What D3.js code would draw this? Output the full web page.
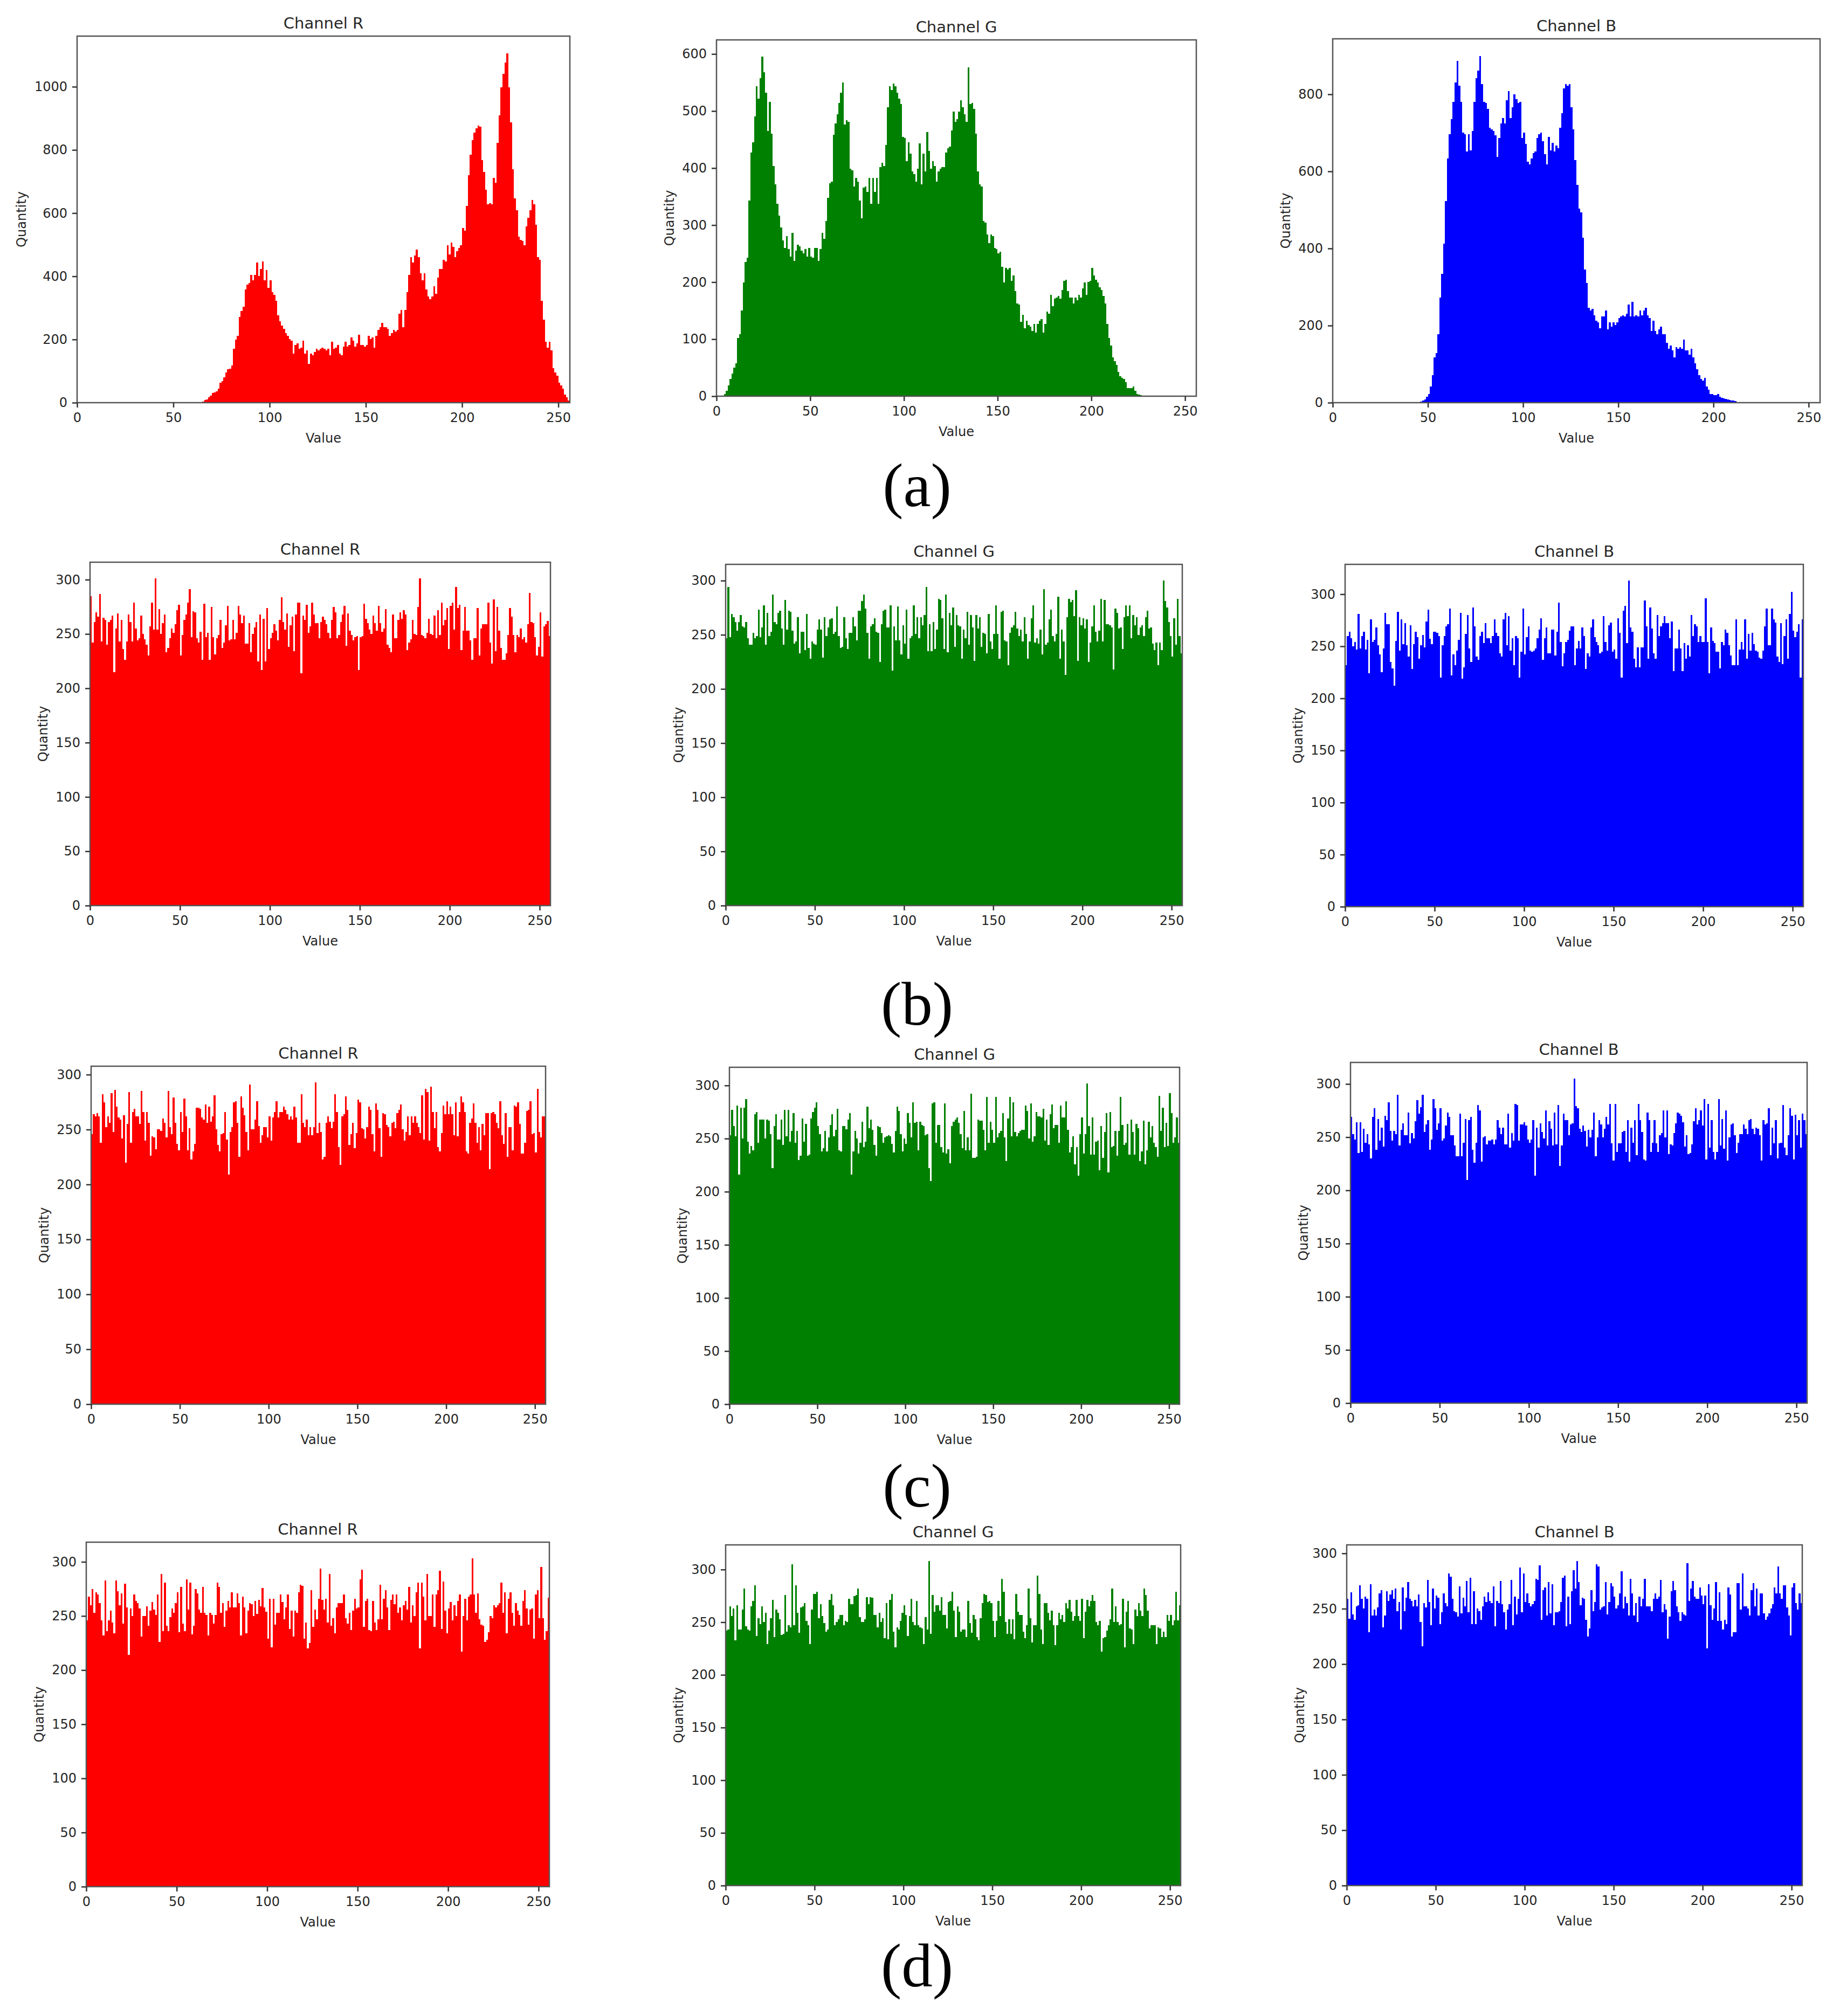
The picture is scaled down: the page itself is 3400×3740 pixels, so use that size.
<!DOCTYPE html>
<html>
<head>
<meta charset="utf-8">
<script src="https://cdn.jsdelivr.net/npm/d3@7"></script>
<style>
  body { margin: 0; background: #fff; }
  text { font-family: "DejaVu Sans", sans-serif; fill: #262626; }
</style>
</head>
<body>
<svg id="chart"></svg>
<script>
// ---- data (256 bins per histogram) ----
var rowLabels = ['(a)', '(b)', '(c)', '(d)'];
var channelNames = ['R', 'G', 'B'];
var xTicks = [0, 50, 100, 150, 200, 250];
var yTicksAR = [0, 200, 400, 600, 800, 1000];
var yTicksAG = [0, 100, 200, 300, 400, 500, 600];
var yTicksAB = [0, 200, 400, 600, 800];
var yTicksFlat = [0, 50, 100, 150, 200, 250, 300];

// (a) original image
var aR = [
  0,0,0,0,0,0,0,0,0,0,0,0,0,0,0,0,
  0,0,0,0,0,0,0,0,0,0,0,0,0,0,0,0,
  0,0,0,0,0,0,0,0,0,0,0,0,0,0,0,0,
  0,0,0,0,0,0,0,0,0,0,0,0,0,0,0,2,
  2,3,8,10,17,22,30,33,35,45,63,68,81,95,105,108,
  118,170,200,211,271,290,304,359,373,378,405,387,405,443,401,424,
  447,387,419,364,387,350,341,322,276,257,244,234,220,211,202,197,
  155,183,188,170,174,197,155,165,123,155,151,160,170,165,170,174,
  170,165,170,151,192,170,174,183,155,151,178,192,178,183,206,197,
  178,188,215,183,183,178,183,211,202,206,174,211,230,239,253,239,
  239,234,211,220,230,225,230,281,294,239,294,350,405,461,443,466,
  484,461,410,387,410,359,336,327,336,368,345,396,424,424,452,447,
  498,470,507,493,461,480,489,498,553,544,623,720,785,831,854,868,
  877,873,767,730,674,628,632,628,711,697,822,910,998,1040,1077,1105,
  998,887,739,646,609,526,516,512,498,558,586,609,642,628,563,461,
  452,322,262,192,174,192,165,109,95,86,63,54,44,26,17,7
];
var aG = [
  0,0,0,0,4,9,19,30,40,50,58,102,109,150,199,235,
  243,343,427,445,491,543,522,558,595,568,532,465,516,460,404,371,
  337,317,296,273,260,281,258,245,286,237,255,266,263,255,250,258,
  245,260,245,243,260,260,237,258,286,276,307,348,373,376,458,478,
  494,514,532,550,476,484,481,399,396,368,383,376,343,312,366,368,
  358,383,337,383,358,383,337,402,409,404,440,507,543,537,548,543,
  532,522,512,455,453,412,445,425,394,389,376,399,443,371,425,394,
  463,430,399,412,404,376,394,399,402,402,427,435,438,466,499,481,
  486,499,519,507,494,481,577,512,514,504,460,394,371,368,307,304,
  284,268,284,281,260,258,250,253,227,199,225,222,225,202,212,184,
  163,161,130,143,119,132,125,122,114,127,112,127,132,135,112,127,
  148,145,178,158,171,173,176,171,186,202,204,184,173,173,163,173,
  168,178,173,189,199,178,200,202,225,212,204,199,191,186,176,163,
  127,102,89,68,61,55,43,35,32,30,25,14,14,14,17,9,
  4,3,2,1,1,1,0,0,0,0,0,0,0,0,0,0,
  0,0,0,0,0,0,0,0,0,0,0,0,0,0,0,0
];
var aB = [
  0,0,0,0,0,0,0,0,0,0,0,0,0,0,0,0,
  0,0,0,0,0,0,0,0,0,0,0,0,0,0,0,0,
  0,0,0,0,0,0,0,0,0,0,0,0,0,0,3,5,
  8,15,23,42,72,118,129,178,273,334,413,523,633,697,735,781,
  830,887,822,781,701,697,652,697,655,705,781,842,861,899,826,781,
  777,762,713,709,705,694,637,686,724,739,724,785,808,739,766,800,
  788,777,781,686,701,671,625,618,633,648,652,686,697,701,678,644,
  618,690,655,674,652,667,660,713,751,815,826,822,826,766,709,629,
  565,504,493,428,345,311,246,239,243,227,212,208,193,224,224,239,
  190,208,197,208,201,208,220,224,227,224,231,254,224,262,224,227,
  224,239,227,239,246,227,220,186,212,186,178,190,197,178,178,155,
  140,148,136,118,144,140,144,140,163,136,136,125,140,118,102,87,
  72,61,57,64,42,34,23,23,20,19,23,15,13,11,10,8,
  7,6,5,4,2,1,0,0,0,0,0,0,0,0,0,0,
  0,0,0,0,0,0,0,0,0,0,0,0,0,0,0,0,
  0,0,0,0,0,0,0,0,0,0,0,0,0,0,0,0
];

// (b)
var bR = [
  285,242,261,270,266,287,243,265,263,240,261,263,267,215,255,269,
  243,263,236,226,243,268,261,243,279,255,244,246,267,250,245,240,
  230,257,279,254,301,254,273,250,260,268,233,237,246,255,251,259,
  272,277,230,249,263,268,279,291,247,271,270,246,242,252,226,278,
  247,251,226,275,247,231,246,249,263,237,242,258,276,244,245,263,
  245,251,276,268,260,267,241,241,260,233,250,256,261,225,268,217,
  264,225,274,236,246,251,259,253,244,263,284,261,254,269,238,258,
  266,234,268,279,279,214,267,263,277,251,257,279,268,260,260,246,
  261,266,263,259,251,246,263,275,270,246,249,261,268,276,239,269,
  253,249,244,247,248,217,247,248,278,264,260,254,250,267,260,253,
  276,260,252,255,273,240,237,233,268,246,246,263,270,264,272,268,
  235,242,245,263,250,249,275,301,249,248,246,251,264,250,249,267,
  246,272,249,279,258,263,274,236,276,279,254,293,274,277,235,253,
  275,253,253,244,226,246,246,274,230,255,259,259,259,279,242,223,
  282,234,275,253,237,226,226,232,249,274,266,249,233,249,247,255,
  245,247,242,259,288,261,260,247,230,238,270,229,257,259,262,248
];
var bG = [
  247,294,248,269,266,262,254,262,268,258,257,262,247,241,241,252,
  247,249,273,248,257,277,241,270,249,253,287,262,260,270,272,256,
  241,282,255,272,271,254,242,244,266,233,253,253,236,269,238,228,
  244,242,241,255,264,255,229,266,249,257,264,265,251,253,276,249,
  238,239,266,247,237,252,252,266,258,245,272,272,281,287,274,252,
  228,258,260,265,253,252,225,260,272,273,257,257,277,217,258,245,
  276,245,232,259,242,273,228,247,249,277,251,266,247,266,259,268,
  294,235,260,235,262,237,255,283,282,265,237,287,234,270,259,275,
  239,268,259,258,228,255,247,271,241,268,257,226,268,256,266,239,
  252,251,233,269,244,237,251,277,251,228,271,272,245,244,222,252,
  257,259,271,256,249,255,244,266,251,228,244,265,277,243,247,242,
  255,232,292,241,243,264,273,249,244,251,285,228,255,244,213,266,
  283,280,282,267,291,226,266,259,265,256,264,225,243,258,277,253,
  244,254,283,244,282,260,260,259,257,218,274,270,256,257,237,266,
  277,267,277,247,268,259,266,250,257,259,249,266,272,256,257,242,
  236,243,222,243,236,300,281,275,262,249,230,265,241,283,249,233
];
var bB = [
  232,260,264,258,250,254,247,281,248,260,264,247,256,224,276,254,
  256,268,251,242,225,248,282,271,271,235,229,212,255,283,246,276,
  252,272,251,240,270,228,252,264,259,238,251,261,249,274,285,257,
  252,264,264,263,260,220,251,260,269,271,286,222,242,232,246,256,
  282,219,230,262,280,248,235,287,269,240,237,260,264,253,272,258,
  258,253,260,276,263,260,243,240,276,282,251,279,246,258,232,260,
  258,220,245,286,242,259,269,246,245,246,248,258,266,277,237,258,
  268,243,243,266,266,241,264,292,254,231,243,254,256,265,269,269,
  232,248,255,248,268,260,228,243,240,268,276,259,254,251,243,245,
  279,254,246,270,273,245,247,238,277,263,220,284,289,253,313,268,
  264,238,230,249,230,249,249,294,269,238,287,267,243,238,280,260,
  269,272,279,272,272,258,274,226,248,248,266,248,226,253,238,251,
  240,280,260,271,269,254,260,254,254,296,254,224,268,255,253,245,
  245,229,254,251,266,263,251,241,232,232,276,232,247,254,247,276,
  238,262,246,263,252,246,245,239,238,246,269,286,251,251,286,276,
  273,240,235,272,233,260,276,238,281,302,265,259,264,271,220,276
];

// (c)
var cR = [
  246,264,262,265,262,238,282,275,252,262,256,283,248,286,271,261,
  259,242,263,220,255,284,238,266,269,262,262,255,285,266,240,266,
  256,226,244,243,232,250,250,249,260,256,243,285,252,246,279,256,
  237,231,266,248,278,262,231,251,223,230,237,270,270,269,261,259,
  273,256,271,257,262,281,250,236,230,246,247,266,241,209,248,252,
  275,276,256,225,280,270,263,248,231,291,250,250,259,276,253,238,
  245,252,252,243,262,240,261,266,276,261,266,266,271,268,264,259,
  262,259,271,261,238,238,282,256,252,259,245,252,245,252,293,247,
  256,248,223,225,256,262,257,251,257,282,266,234,218,262,264,280,
  268,236,246,256,233,247,277,275,251,250,242,252,271,268,246,230,
  274,268,251,225,265,264,254,252,244,256,257,251,265,268,273,250,
  240,248,262,245,262,256,262,256,252,247,281,241,287,284,240,289,
  266,251,266,234,230,247,272,264,276,264,271,264,245,275,244,266,
  280,275,266,230,228,256,260,274,256,238,252,231,255,245,265,265,
  214,265,266,264,256,251,276,245,237,265,225,252,252,231,272,271,
  275,255,228,228,238,267,268,276,246,247,229,287,248,243,262,262
];
var cG = [
  253,277,262,252,281,216,279,250,279,287,247,236,243,239,273,275,
  246,268,268,268,250,268,267,254,222,262,273,249,249,268,244,277,
  252,277,247,257,274,246,257,230,234,269,247,264,234,235,269,275,
  279,284,262,254,238,241,257,238,251,263,273,252,258,278,239,238,
  262,262,259,268,274,216,238,257,250,236,246,266,242,247,280,260,
  268,258,244,234,262,261,255,246,251,252,253,252,245,237,257,280,
  276,254,238,250,245,274,265,251,284,265,266,239,266,263,262,253,
  254,222,210,283,284,246,263,263,242,237,283,236,240,227,262,266,
  268,270,265,254,241,276,239,251,239,292,232,232,233,268,267,267,
  258,239,289,246,266,258,246,289,251,255,257,274,251,229,269,289,
  252,284,256,252,255,257,258,258,281,276,250,283,247,252,275,271,
  271,270,278,248,268,244,273,282,260,263,263,246,281,270,270,285,
  258,237,242,252,226,242,215,254,270,236,254,302,262,235,270,235,
  247,248,220,262,232,256,274,218,275,242,243,257,234,257,289,263,
  244,246,264,235,268,256,235,264,260,229,238,267,226,239,266,251,
  262,246,242,233,290,257,279,242,265,243,293,274,246,251,270,246
];
var cB = [
  269,253,248,264,235,264,236,258,245,253,243,230,269,277,238,267,
  247,259,241,270,266,283,256,247,256,253,290,242,257,263,252,252,
  273,244,254,249,265,285,272,278,290,255,262,266,238,248,286,277,
  257,263,277,247,249,261,273,269,252,252,242,232,232,272,232,245,
  267,210,266,269,238,226,245,280,275,227,250,251,243,247,247,248,
  243,248,266,259,253,259,243,243,272,240,254,247,281,280,247,262,
  262,264,261,248,245,248,266,214,259,240,263,255,249,275,242,265,
  258,242,273,243,280,223,242,272,266,266,252,262,263,305,279,277,
  258,255,261,256,241,257,250,257,273,232,250,266,262,250,258,269,
  262,281,244,228,281,236,244,244,255,256,236,266,227,259,245,266,
  233,281,266,255,229,228,273,266,236,245,266,244,236,252,254,275,
  250,275,234,243,242,254,263,273,272,270,264,241,252,234,235,243,
  265,277,262,266,275,261,286,229,281,240,266,236,229,236,286,242,
  267,239,275,228,250,262,263,252,235,245,253,253,262,258,253,266,
  267,258,253,259,258,252,228,266,262,263,277,233,259,244,266,230,
  244,245,280,240,233,252,277,270,229,271,252,266,240,272,266,253
];

// (d)
var dR = [
  246,268,260,275,253,272,270,262,246,232,283,236,246,255,244,234,
  283,273,260,271,243,280,258,214,257,250,270,264,262,257,231,250,
  250,259,241,255,263,256,251,270,226,289,236,281,241,236,249,257,
  253,262,272,235,277,243,236,284,256,281,233,241,275,271,256,253,
  277,253,251,232,253,251,243,251,281,277,253,262,240,255,264,258,
  272,258,258,271,262,232,268,258,234,255,262,261,250,264,252,265,
  259,276,258,254,229,266,221,266,242,253,253,270,263,247,258,270,
  238,255,231,255,253,272,279,278,229,244,220,225,274,240,256,247,
  266,294,265,256,266,244,289,241,248,234,258,262,262,262,270,248,
  243,253,237,255,266,257,258,284,293,240,264,266,237,236,264,244,
  237,247,279,247,266,274,258,237,265,270,261,270,253,258,246,260,
  264,256,277,244,260,250,272,281,220,281,268,246,289,250,250,270,
  240,270,274,292,238,282,255,234,257,263,246,260,250,264,270,217,
  250,266,246,268,270,303,270,253,271,247,242,241,226,228,235,250,
  248,260,258,260,262,281,253,272,234,266,272,253,241,262,255,251,
  241,264,274,257,242,256,257,229,270,274,248,295,248,228,236,267
];
var dG = [
  242,243,265,256,263,233,266,243,243,262,282,246,243,242,265,270,
  285,237,254,248,265,250,259,229,242,254,271,236,262,259,253,238,
  239,276,241,247,245,305,247,285,259,240,264,265,268,251,247,229,
  262,277,277,279,254,267,256,249,241,243,271,277,266,247,250,253,
  257,257,247,251,250,272,267,267,275,276,282,255,250,250,253,274,
  267,274,273,257,257,245,259,250,254,235,268,234,271,277,241,226,
  245,243,251,259,266,257,237,256,272,250,247,270,247,245,244,229,
  255,243,308,239,276,260,266,266,261,274,257,257,244,269,270,279,
  261,236,265,260,241,243,243,236,270,249,240,257,253,236,233,254,
  268,277,276,269,270,268,251,236,251,270,256,291,279,250,239,253,
  239,253,234,277,260,257,257,241,235,247,282,254,231,247,247,294,
  277,243,229,268,268,259,252,261,247,228,247,259,253,257,250,268,
  263,271,260,251,256,271,256,251,272,235,260,271,265,270,276,270,
  250,247,251,222,235,236,242,247,253,282,250,265,250,247,248,272,
  226,260,270,244,243,229,262,256,268,261,256,282,276,261,244,247,
  247,247,229,245,244,236,241,236,257,251,257,247,252,279,252,266
];
var dB = [
  259,241,265,245,240,252,253,271,259,250,261,259,229,272,244,249,
  244,251,264,267,233,244,266,257,263,267,259,268,248,256,231,269,
  248,260,274,259,257,252,258,252,263,238,216,255,251,276,256,235,
  268,250,262,260,236,247,264,255,252,282,279,259,248,247,243,270,
  246,260,252,275,247,278,236,266,236,250,248,240,252,261,256,265,
  257,255,270,234,257,255,275,254,247,231,249,254,276,235,261,245,
  259,287,247,282,256,264,255,252,254,257,277,276,289,240,267,269,
  244,274,246,272,235,247,247,248,256,278,280,234,261,236,266,285,
  268,293,274,253,260,259,240,225,232,267,248,256,290,288,249,251,
  252,274,245,256,273,270,261,250,253,264,284,250,261,255,244,277,
  264,244,255,238,261,252,259,277,252,252,252,248,259,264,259,261,
  276,247,254,249,223,243,266,275,267,252,247,239,247,245,244,291,
  257,268,275,261,259,259,269,262,254,262,214,272,253,240,250,274,
  239,265,239,231,240,236,269,263,225,229,229,273,273,249,282,252,
  252,250,244,267,273,252,268,244,264,264,246,240,243,246,250,254,
  269,264,288,264,259,271,271,251,244,226,269,273,255,249,264,255
];

// ---- layout ----
var width = 3400, height = 3740;
var channelColors = { R: '#ff0000', G: '#008000', B: '#0000ff' };

// axes boxes [left, right, top, bottom] in page pixels
var panels = [
  { ch: 'R', values: aR, yTicks: yTicksAR, box: [143, 1057, 67, 747] },
  { ch: 'G', values: aG, yTicks: yTicksAG, box: [1329, 2219, 74, 735] },
  { ch: 'B', values: aB, yTicks: yTicksAB, box: [2472, 3376, 72, 747] },
  { ch: 'R', values: bR, yTicks: yTicksFlat, box: [167, 1021, 1043, 1680] },
  { ch: 'G', values: bG, yTicks: yTicksFlat, box: [1346, 2193, 1047, 1680] },
  { ch: 'B', values: bB, yTicks: yTicksFlat, box: [2495, 3345, 1047, 1682] },
  { ch: 'R', values: cR, yTicks: yTicksFlat, box: [169, 1012, 1978, 2605] },
  { ch: 'G', values: cG, yTicks: yTicksFlat, box: [1353, 2188, 1980, 2605] },
  { ch: 'B', values: cB, yTicks: yTicksFlat, box: [2505, 3352, 1971, 2603] },
  { ch: 'R', values: dR, yTicks: yTicksFlat, box: [160, 1019, 2861, 3500] },
  { ch: 'G', values: dG, yTicks: yTicksFlat, box: [1346, 2190, 2866, 3498] },
  { ch: 'B', values: dB, yTicks: yTicksFlat, box: [2498, 3343, 2866, 3498] }
];
var rowLabelY = [939, 1901, 2795, 3685];

var svg = d3.select('#chart')
  .attr('width', width)
  .attr('height', height)
  .attr('viewBox', '0 0 ' + width + ' ' + height);

svg.append('rect').attr('width', width).attr('height', height).attr('fill', '#fff');

var tickLen = 9, fontTick = 24, fontLabel = 24, fontTitle = 29;

function styleAxis(g) {
  g.select('.domain').remove();
  g.selectAll('.tick line').attr('stroke', '#333').attr('stroke-width', 2.5);
  g.selectAll('.tick text')
    .attr('fill', '#262626')
    .style('font-size', fontTick + 'px')
    .style('font-family', '"DejaVu Sans", sans-serif');
}

panels.forEach(function(p) {
  var L = p.box[0], R = p.box[1], T = p.box[2], B = p.box[3];
  var x = d3.scaleLinear().domain([0, 256]).range([L, R]);
  // matplotlib-style auto limit: 5% headroom over the tallest bin
  var y = d3.scaleLinear().domain([0, d3.max(p.values) * 1.05]).range([B, T]);
  var g = svg.append('g').attr('class', 'panel');

  g.selectAll('rect.bar')
    .data(p.values)
    .enter().append('rect')
    .attr('class', 'bar')
    .attr('x', function(d, i) { return x(i); })
    .attr('width', function(d, i) { return x(i + 1) - x(i); })
    .attr('y', function(d) { return y(d); })
    .attr('height', function(d) { return y(0) - y(d); })
    .attr('fill', channelColors[p.ch])
    .attr('shape-rendering', 'crispEdges');

  // frame (all four spines)
  g.append('rect')
    .attr('x', L).attr('y', T)
    .attr('width', R - L).attr('height', B - T)
    .attr('fill', 'none')
    .attr('stroke', '#555')
    .attr('stroke-width', 2.5);

  var xAxis = g.append('g')
    .attr('transform', 'translate(0,' + B + ')')
    .call(d3.axisBottom(x).tickValues(xTicks).tickSize(tickLen).tickPadding(10)
      .tickFormat(d3.format('d')));
  styleAxis(xAxis);

  var yAxis = g.append('g')
    .attr('transform', 'translate(' + L + ',0)')
    .call(d3.axisLeft(y).tickValues(p.yTicks).tickSize(tickLen).tickPadding(9)
      .tickFormat(d3.format('d')));
  styleAxis(yAxis);

  var maxW = 0;
  yAxis.selectAll('.tick text').each(function() {
    maxW = Math.max(maxW, this.getComputedTextLength());
  });

  g.append('text')
    .attr('x', (L + R) / 2)
    .attr('y', T - 14)
    .attr('text-anchor', 'middle')
    .style('font-size', fontTitle + 'px')
    .text('Channel ' + p.ch);

  g.append('text')
    .attr('x', (L + R) / 2)
    .attr('y', B + 74)
    .attr('text-anchor', 'middle')
    .style('font-size', fontLabel + 'px')
    .text('Value');

  var qx = L - tickLen - 9 - maxW - 24;
  g.append('text')
    .attr('transform', 'translate(' + qx + ',' + ((T + B) / 2) + ') rotate(-90)')
    .attr('text-anchor', 'middle')
    .attr('dy', '0.35em')
    .style('font-size', fontLabel + 'px')
    .text('Quantity');
});

// sub-figure labels
svg.selectAll('text.rowlabel')
  .data(rowLabels)
  .enter().append('text')
  .attr('class', 'rowlabel')
  .attr('x', 1701)
  .attr('y', function(d, i) { return rowLabelY[i]; })
  .attr('text-anchor', 'middle')
  .style('font-family', '"Liberation Serif", "Times New Roman", serif')
  .style('font-size', '115px')
  .style('fill', '#000')
  .text(function(d) { return d; });
</script>
</body>
</html>
